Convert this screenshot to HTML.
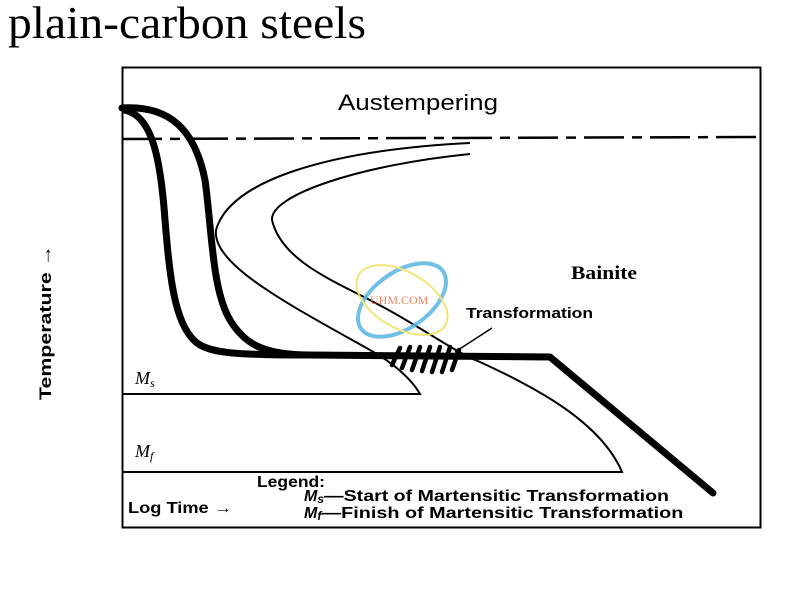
<!DOCTYPE html>
<html><head><meta charset="utf-8"><style>
body{margin:0;background:#fff;width:800px;height:600px;overflow:hidden}
svg{display:block}
</style></head><body>
<svg width="800" height="600" viewBox="0 0 800 600" xmlns="http://www.w3.org/2000/svg">
<text x="8" y="38" font-family="Liberation Serif, serif" font-size="46" textLength="358" lengthAdjust="spacingAndGlyphs">plain-carbon steels</text>
<rect x="122.5" y="67.5" width="638" height="460" fill="none" stroke="#000" stroke-width="2"/>
<line x1="122" y1="139" x2="761" y2="137" stroke="#000" stroke-width="2.5" stroke-dasharray="40,8,10,8"/>
<text x="338" y="110" font-family="Liberation Sans, sans-serif" font-size="22" textLength="160" lengthAdjust="spacingAndGlyphs">Austempering</text>
<text x="571" y="279" font-family="Liberation Serif, serif" font-size="19" font-weight="bold" textLength="66" lengthAdjust="spacingAndGlyphs">Bainite</text>
<text x="466" y="318" font-family="Liberation Sans, sans-serif" font-size="15" font-weight="bold" textLength="127" lengthAdjust="spacingAndGlyphs">Transformation</text>
<line x1="492" y1="328" x2="455" y2="352" stroke="#000" stroke-width="1.5"/>
<text transform="translate(51,400) rotate(-90)" font-family="Liberation Sans, sans-serif" font-size="17" font-weight="bold" textLength="155" lengthAdjust="spacingAndGlyphs">Temperature →</text>
<!-- thin C curves -->
<path d="M470,143 C330,150 230,180 216,230 C212,265 290,305 370,350 C395,364 412,380 420,394 L122,394" fill="none" stroke="#000" stroke-width="2"/>
<path d="M470,154 C360,165 270,195 272,220 C280,255 320,275 360,295 C420,325 450,350 480,362 C530,385 600,420 622,472 L122,472" fill="none" stroke="#000" stroke-width="2"/>
<!-- thick cooling curves -->
<path d="M122,108 C170,105 195,130 205,180 C212,230 212,290 230,320 C245,345 265,355 310,355 L550,357 L713,493" fill="none" stroke="#000" stroke-width="7" stroke-linecap="round" stroke-linejoin="round"/>
<path d="M124,110 C150,115 160,150 165,220 C170,280 175,330 200,345 C215,353 235,355 310,355" fill="none" stroke="#000" stroke-width="7"/>
<!-- hatch -->
<g stroke="#000" stroke-width="4.5" stroke-linecap="round">
<line x1="392" y1="365" x2="400" y2="348"/><line x1="402" y1="368" x2="410" y2="347"/>
<line x1="412" y1="370" x2="420" y2="347"/><line x1="422" y1="371" x2="430" y2="347"/>
<line x1="432" y1="372" x2="440" y2="347"/><line x1="442" y1="372" x2="450" y2="347"/>
<line x1="452" y1="370" x2="459" y2="350"/>
</g>
<!-- logo -->
<g opacity="0.85">
<ellipse cx="402" cy="300" rx="50" ry="28" transform="rotate(-35 402 300)" fill="none" stroke="#5ab4e0" stroke-width="4"/>
<ellipse cx="402" cy="300" rx="50" ry="28" transform="rotate(30 402 300)" fill="none" stroke="#f0e060" stroke-width="2"/>
<text x="370" y="304" font-family="Liberation Serif, serif" font-size="12" fill="#e8704a">UHM.COM</text>
</g>
<text x="135" y="384" font-family="Liberation Serif, serif" font-size="18" font-style="italic">M<tspan font-size="12" dy="3">s</tspan></text>
<text x="135" y="457" font-family="Liberation Serif, serif" font-size="18" font-style="italic">M<tspan font-size="12" dy="3">f</tspan></text>
<g font-family="Liberation Sans, sans-serif" font-size="16" font-weight="bold">
<text x="257" y="487" textLength="68" lengthAdjust="spacingAndGlyphs">Legend:</text>
<text x="128" y="513" textLength="104" lengthAdjust="spacingAndGlyphs">Log Time →</text>
<text x="304" y="501"><tspan font-style="italic">M<tspan font-size="12" dy="2">s</tspan></tspan><tspan dy="-2" textLength="345" lengthAdjust="spacingAndGlyphs">—Start of Martensitic Transformation</tspan></text>
<text x="304" y="518"><tspan font-style="italic">M<tspan font-size="12" dy="2">f</tspan></tspan><tspan dy="-2" textLength="362" lengthAdjust="spacingAndGlyphs">—Finish of Martensitic Transformation</tspan></text>
</g>
</svg>
</body></html>
